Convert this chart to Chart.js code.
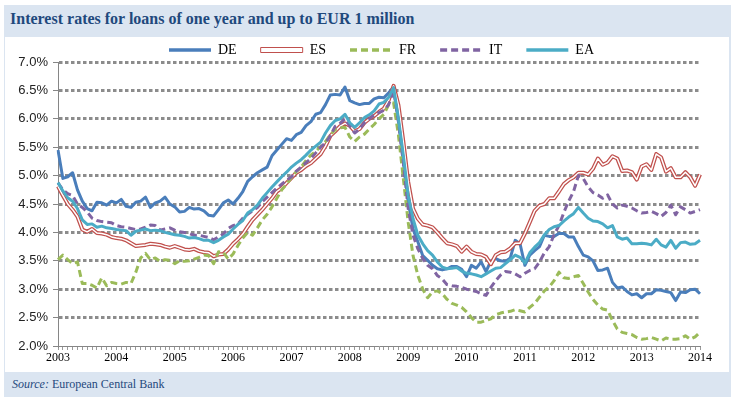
<!DOCTYPE html>
<html>
<head>
<meta charset="utf-8">
<script src="https://cdn.jsdelivr.net/npm/chart.js@4.4.1/dist/chart.umd.min.js"></script>
<style>
  body { margin: 0; background: #fff; }
  #frame { position: absolute; left: 4px; top: 5px; width: 727px; height: 392px; background: #dbe5f1; }
  #title { position: absolute; left: 10px; top: 10px; font: bold 16px "Liberation Serif", serif; color: #1f497d; }
  #panel { position: absolute; left: 5px; top: 37px; width: 724px; height: 335px; background: #fff; }
  #source { position: absolute; left: 12px; top: 377px; font: 12px "Liberation Serif", serif; color: #1f497d; }
</style>
</head>
<body>
<div id="frame"></div>
<div id="title">Interest rates for loans of one year and up to EUR 1 million</div>
<div id="panel"><canvas id="rates"></canvas></div>
<div id="source"><i>Source:</i> European Central Bank</div>
<script>
// monthly observations, Jan 2003 .. Jan 2014
const startYear = 2003;
const months = 133;
const categories = Array.from({length: months}, (_, i) =>
    (startYear + Math.floor(i / 12)) + '-' + String(i % 12 + 1).padStart(2, '0'));

const yTicks = [2.0, 2.5, 3.0, 3.5, 4.0, 4.5, 5.0, 5.5, 6.0, 6.5, 7.0];

const DE = [
    5.45, 4.95, 4.98, 5.05, 4.75, 4.55, 4.42, 4.38, 4.53, 4.52, 4.48, 4.55,
    4.52, 4.58, 4.46, 4.44, 4.53, 4.55, 4.62, 4.44, 4.52, 4.55, 4.62, 4.50,
    4.45, 4.36, 4.37, 4.44, 4.41, 4.42, 4.38, 4.30, 4.29, 4.40, 4.52, 4.57,
    4.50, 4.60, 4.72, 4.90, 4.98, 5.05, 5.10, 5.15, 5.35, 5.45, 5.55, 5.65,
    5.62, 5.72, 5.76, 5.88, 5.95, 6.08, 6.11, 6.25, 6.42, 6.43, 6.42, 6.56,
    6.32, 6.28, 6.25, 6.27, 6.27, 6.35, 6.38, 6.37, 6.46, 6.56, 5.95, 5.24,
    4.54, 4.06, 3.83, 3.59, 3.51, 3.42, 3.36, 3.34, 3.36, 3.40, 3.40, 3.35,
    3.22, 3.42, 3.37, 3.48, 3.31, 3.50, 3.54, 3.50, 3.49, 3.55, 3.86, 3.80,
    3.42, 3.60, 3.68, 3.75, 3.95, 3.93, 3.93, 3.98, 3.98, 3.92, 3.92, 3.75,
    3.60, 3.57, 3.50, 3.33, 3.34, 3.37, 3.12, 3.02, 3.04, 2.96, 2.90, 2.92,
    2.85, 2.92, 2.92, 2.99, 2.98, 2.96, 2.94, 2.80, 2.95, 2.94, 2.99, 3.00,
    2.92
];
const ES = [
    4.81, 4.65, 4.50, 4.40, 4.28, 4.05, 4.01, 4.06, 3.99, 3.98, 3.96, 3.92,
    3.90, 3.89, 3.86, 3.81, 3.76, 3.77, 3.78, 3.80, 3.79, 3.78, 3.75, 3.73,
    3.76, 3.73, 3.70, 3.69, 3.71, 3.67, 3.65, 3.64, 3.58, 3.61, 3.62, 3.70,
    3.80, 3.88, 3.97, 4.10, 4.22, 4.31, 4.40, 4.50, 4.60, 4.72, 4.78, 4.87,
    4.96, 5.05, 5.10, 5.17, 5.22, 5.30, 5.38, 5.52, 5.70, 5.78, 5.87, 5.92,
    5.88, 5.78, 5.82, 5.93, 6.00, 6.05, 6.12, 6.18, 6.33, 6.58, 6.24, 5.60,
    4.89, 4.42, 4.24, 4.14, 4.12, 4.09, 4.00, 3.90, 3.81, 3.79, 3.76, 3.66,
    3.75, 3.66, 3.62, 3.61, 3.57, 3.44, 3.60, 3.65, 3.66, 3.72, 3.81, 3.81,
    3.98, 4.18, 4.38, 4.47, 4.50, 4.60, 4.60, 4.72, 4.85, 4.92, 4.97, 5.05,
    5.05, 5.02, 5.12, 5.30, 5.19, 5.23, 5.34, 5.30, 5.08, 5.09, 5.06, 4.93,
    5.16, 5.20, 5.10, 5.38, 5.32, 5.07, 5.13, 4.97, 4.97, 5.06, 4.97, 4.82,
    5.02
];
const FR = [
    3.52, 3.60, 3.52, 3.45, 3.48, 3.10, 3.10, 3.07, 3.02, 3.20, 3.06, 3.12,
    3.10, 3.09, 3.12, 3.10, 3.30, 3.55, 3.63, 3.52, 3.55, 3.49, 3.52, 3.51,
    3.45, 3.50, 3.49, 3.50, 3.53, 3.56, 3.60, 3.59, 3.45, 3.66, 3.65, 3.53,
    3.62, 3.77, 3.90, 4.00, 3.95, 4.08, 4.22, 4.32, 4.45, 4.60, 4.75, 4.85,
    4.97, 5.07, 5.15, 5.27, 5.36, 5.43, 5.51, 5.60, 5.72, 5.81, 5.84, 5.85,
    5.68, 5.60, 5.68, 5.73, 5.82, 5.90, 6.00, 6.08, 6.25, 6.28, 5.71, 4.95,
    4.18, 3.59, 3.24, 3.00, 2.85, 2.95, 2.97, 2.92, 2.82, 2.75, 2.72, 2.68,
    2.60, 2.50, 2.42, 2.42, 2.45, 2.48, 2.55, 2.58, 2.60, 2.61, 2.64, 2.62,
    2.60, 2.68, 2.75, 2.86, 2.97, 3.04, 3.15, 3.30, 3.20, 3.19, 3.22, 3.24,
    3.10, 2.95, 2.82, 2.72, 2.65, 2.63, 2.45, 2.30, 2.24, 2.22, 2.20, 2.15,
    2.12, 2.13, 2.15, 2.12, 2.09, 2.14, 2.12, 2.12, 2.13, 2.18, 2.12, 2.16,
    2.24
];
const IT = [
    4.87, 4.75, 4.68, 4.65, 4.50, 4.44, 4.36, 4.25, 4.21, 4.19, 4.18, 4.17,
    4.12, 4.10, 4.09, 4.07, 4.05, 4.06, 4.09, 4.13, 4.12, 4.04, 4.06, 4.08,
    4.04, 4.01, 4.00, 3.98, 3.95, 3.95, 3.93, 3.91, 3.87, 3.92, 3.97, 4.07,
    4.12, 4.15, 4.25, 4.32, 4.38, 4.44, 4.54, 4.62, 4.70, 4.78, 4.85, 4.92,
    4.98, 5.08, 5.15, 5.23, 5.30, 5.40, 5.50, 5.58, 5.70, 5.87, 5.92, 6.00,
    5.87, 5.75, 5.82, 5.93, 6.00, 6.07, 6.11, 6.15, 6.25, 6.50, 5.95, 5.24,
    4.42, 3.95, 3.71, 3.54, 3.42, 3.36, 3.24, 3.18, 3.08, 3.06, 3.05, 3.03,
    3.00, 2.98, 2.96, 2.92, 2.89, 3.03, 3.15, 3.25, 3.31, 3.30, 3.27, 3.22,
    3.28, 3.33, 3.36, 3.48, 3.64, 3.75, 3.96, 4.12, 4.35, 4.55, 4.72, 5.00,
    4.95, 4.80, 4.70, 4.66, 4.60, 4.66, 4.50, 4.43, 4.48, 4.46, 4.43, 4.38,
    4.34, 4.35, 4.37, 4.33, 4.28, 4.35, 4.48, 4.31, 4.45, 4.40, 4.34, 4.37,
    4.40
];
const EA = [
    4.88, 4.73, 4.61, 4.55, 4.42, 4.22, 4.14, 4.15, 4.09, 4.11, 4.08, 4.07,
    4.05, 4.04, 4.03, 3.95, 4.02, 4.04, 4.06, 4.03, 4.04, 4.03, 4.00, 3.98,
    3.96, 3.95, 3.93, 3.90, 3.91, 3.89, 3.86, 3.86, 3.82, 3.86, 3.92, 3.97,
    4.06, 4.14, 4.21, 4.34, 4.40, 4.48, 4.60, 4.70, 4.80, 4.89, 4.98, 5.06,
    5.15, 5.22, 5.28, 5.36, 5.45, 5.52, 5.59, 5.75, 5.88, 5.97, 6.00, 6.08,
    5.93, 5.85, 5.93, 6.02, 6.07, 6.14, 6.26, 6.29, 6.38, 6.55, 6.00, 5.36,
    4.65, 4.24, 3.95, 3.80, 3.68, 3.60, 3.48, 3.39, 3.36, 3.37, 3.38, 3.32,
    3.28, 3.27, 3.25, 3.22, 3.27, 3.32, 3.37, 3.38, 3.45, 3.52, 3.60, 3.56,
    3.46, 3.64, 3.74, 3.82, 3.96, 4.05, 4.10, 4.12, 4.20, 4.27, 4.33, 4.44,
    4.34, 4.25, 4.20, 4.19, 4.15, 4.08, 4.12, 3.92, 3.88, 3.90, 3.80, 3.80,
    3.81, 3.80, 3.78, 3.88, 3.78, 3.74, 3.86, 3.72, 3.82, 3.83, 3.79, 3.80,
    3.86
];

const blue = '#4a7ebb', red = '#c0504d', green = '#9bbb59', purple = '#8064a2', cyan = '#4bacc6';

// legend entries drawn like the Excel samples
const legendItems = [
    {text: 'DE', pointStyle: 'line', strokeStyle: blue, fillStyle: blue, lineWidth: 3.5, lineDash: []},
    {text: 'ES', pointStyle: 'rect', strokeStyle: red, fillStyle: '#fff', lineWidth: 1, lineDash: []},
    {text: 'FR', pointStyle: 'line', strokeStyle: green, fillStyle: green, lineWidth: 3.5, lineDash: [7, 4]},
    {text: 'IT', pointStyle: 'line', strokeStyle: purple, fillStyle: purple, lineWidth: 3.5, lineDash: [7, 4]},
    {text: 'EA', pointStyle: 'line', strokeStyle: cyan, fillStyle: cyan, lineWidth: 3.5, lineDash: []}
];

// keep the legend short but draw its row near the top
const legendPlace = {
    id: 'legendPlace',
    beforeInit(chart) {
        const fit = chart.legend.fit;
        chart.legend.fit = function () {
            fit.bind(chart.legend)();
            this.height = 25;
        };
    },
    afterLayout(chart) {
        const l = chart.legend;
        l.top -= 18;
        l.left += 29; l.right += 29;
    }
};

const ctx = document.getElementById('rates');

var chart = new Chart(ctx, {
    type: 'line',
    data: {
        labels: categories,
        datasets: [
            {label: 'DE', data: DE, borderColor: blue, borderWidth: 3, order: 6},
            {label: 'ES', data: ES, borderColor: red, borderWidth: 4, order: 5},
            {label: 'ES inner', data: ES, borderColor: '#ffffff', borderWidth: 1.5, order: 4},
            {label: 'FR', data: FR, borderColor: green, borderWidth: 3, borderDash: [7, 4], order: 3},
            {label: 'IT', data: IT, borderColor: purple, borderWidth: 3, borderDash: [7, 4], order: 2},
            {label: 'EA', data: EA, borderColor: cyan, borderWidth: 3, order: 1}
        ]
    },
    options: {
        responsive: true,
        maintainAspectRatio: false,
        animation: false,
        events: [],
        elements: {
            point: {radius: 0},
            line: {tension: 0, borderJoinStyle: 'round', fill: false}
        },
        layout: {padding: {left: 0, right: 29, top: 0, bottom: 0}},
        scales: {
            x: {
                type: 'category',
                offset: false,
                grid: {drawOnChartArea: false, drawTicks: true, tickLength: 4, color: '#9a9a9a', lineWidth: 1},
                border: {display: true, color: '#868686', width: 1},
                ticks: {
                    autoSkip: false,
                    maxRotation: 0,
                    padding: 1,
                    color: '#000',
                    font: {family: '"Liberation Serif", serif', size: 12},
                    callback: (v, i) => i % 12 === 0 ? String(startYear + i / 12) : ''
                },
                afterFit: (s) => { s.height = 26; }
            },
            y: {
                min: 2,
                max: 7,
                afterBuildTicks: (s) => { s.ticks = yTicks.map(v => ({value: v})); },
                grid: {
                    color: (c) => (c.tick && c.tick.value === 2) ? 'rgba(0,0,0,0)' : '#8c8c8c',
                    lineWidth: 3,
                    tickLength: 5,
                    tickColor: '#868686',
                    tickWidth: 1
                },
                border: {display: true, color: '#868686', width: 1, dash: [3.5, 2.5]},
                ticks: {
                    padding: 5,
                    color: '#222',
                    font: {family: '"Liberation Sans", Arial, sans-serif', size: 13},
                    callback: (v) => v.toFixed(1) + '%'
                },
                afterFit: (s) => { s.width = 53; }
            }
        },
        plugins: {
            legend: {
                display: true,
                position: 'top',
                align: 'center',
                labels: {
                    usePointStyle: true,
                    pointStyleWidth: 42,
                    boxHeight: 5,
                    padding: 24,
                    color: '#000',
                    font: {family: '"Liberation Serif", serif', size: 14},
                    generateLabels: () => legendItems.map(it => Object.assign({hidden: false}, it))
                }
            },
            tooltip: {enabled: false}
        }
    },
    plugins: [legendPlace]
});
</script>
</body>
</html>
